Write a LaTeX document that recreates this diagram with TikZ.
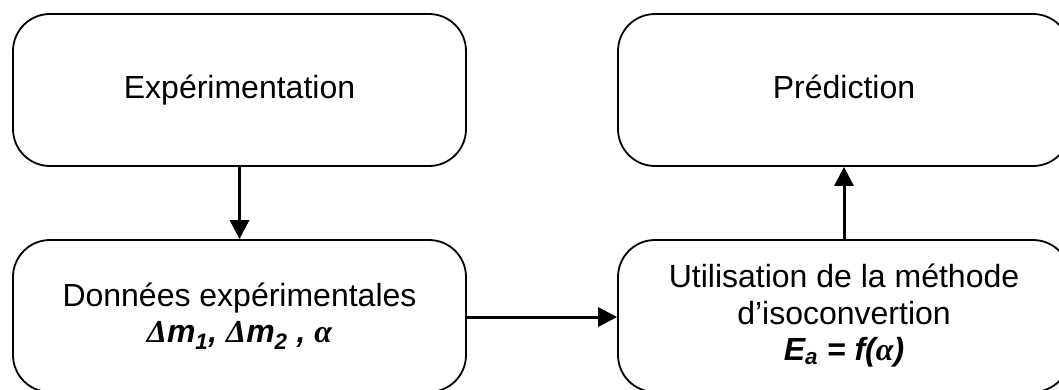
\documentclass[tikz,border=0pt]{standalone}
\usepackage{fontspec}
\setmainfont{Liberation Sans}
\newfontfamily\greekserif{Liberation Serif}
\usetikzlibrary{arrows.meta}
\tikzset{
  stage/.style={draw=black, line width=1.8pt, rounded corners=37pt,
    minimum height=152pt, align=center, inner sep=0pt,
    font=\fontsize{32}{36.5}\selectfont},
  flow/.style={line width=3pt, -{Triangle[length=19pt,width=19pt]}}
}
\newcommand{\symb}[1]{{\bfseries\itshape #1}}
\newcommand{\galpha}{{\greekserif\bfseries\itshape α}}
\newcommand{\gDelta}{{\greekserif\bfseries\itshape Δ}}
\begin{document}
\begin{tikzpicture}[x=1pt,y=-1pt]
  \useasboundingbox (0,0) rectangle (1059,389);
  \node[stage, minimum width=453pt] (exp) at (239.5,90) {Expérimentation\vphantom{Pd}};
  \node[stage, minimum width=453pt] (data) at (239.5,316)
    {Données expérimentales\\ \symb{\gDelta m\textsubscript{1}, \gDelta m\textsubscript{2} ,} \galpha};
  \node[stage, minimum width=452pt] (pred) at (844,90) {Prédiction\vphantom{Ep}};
  \node[stage, minimum width=452pt] (iso) at (844,316)
    {Utilisation de la méthode\\ d’isoconvertion\\ \symb{E\textsubscript{a} = f(\galpha)}};
  \draw[flow] (exp) -- (data);
  \draw[flow] (data.east |- 0,317) -- (iso.west |- 0,317);
  \draw[flow] (iso) -- (pred);
\end{tikzpicture}
\end{document}
